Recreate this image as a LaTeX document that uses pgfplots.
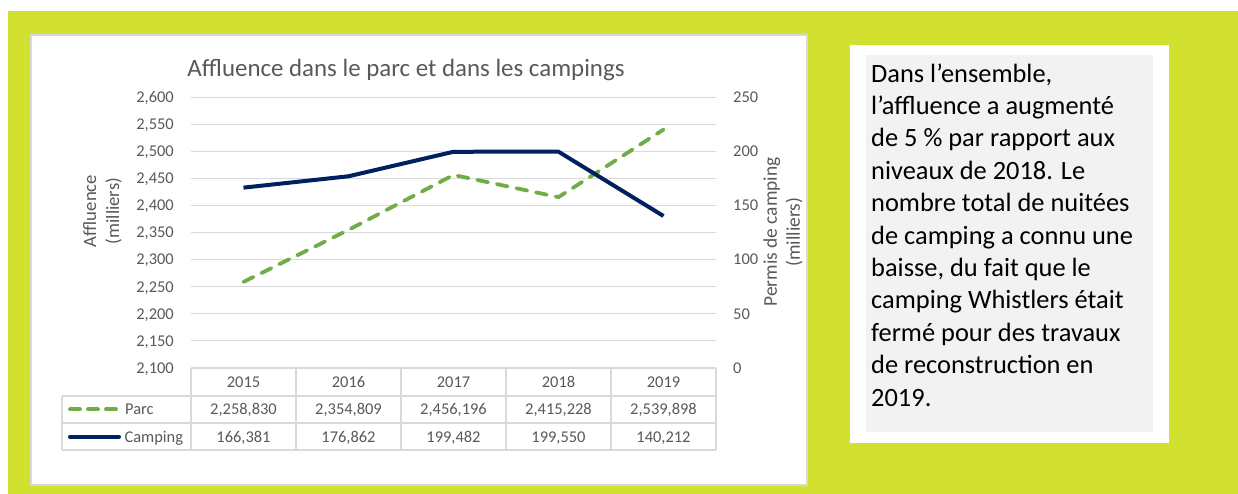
\documentclass[border=0pt]{standalone}
\usepackage{pgfplots}
\pgfplotsset{compat=1.18}
\usepackage{fontspec}
\setmainfont{Carlito}
\definecolor{lime}{RGB}{210,225,47}
\definecolor{txt}{RGB}{89,89,89}
\definecolor{gridc}{RGB}{217,217,217}
\definecolor{parc}{RGB}{112,173,71}
\definecolor{camp}{RGB}{0,32,96}
\definecolor{boxgray}{RGB}{242,242,242}
\newcommand{\tfont}{\fontsize{16.5}{19}\selectfont}
\begin{document}
\begin{tikzpicture}
\useasboundingbox (0,0) rectangle (1238bp,-494bp);
\fill[white] (0,0) rectangle (1238bp,-494bp);
\fill[lime] (8bp,-11bp) rectangle (1238bp,-494bp);
\filldraw[fill=white,draw=gridc,line width=2bp] (31bp,-35bp) rectangle (807bp,-485bp);
\fill[white] (850bp,-45bp) rectangle (1169bp,-443bp);
\fill[boxgray] (866bp,-55bp) rectangle (1153bp,-432bp);
% text box
\begin{scope}[every node/.style={anchor=base west,inner sep=0pt,font=\fontsize{26.5}{32}\selectfont,text=black}]
\node at (871bp,-82bp) {Dans l’ensemble,};
\node at (871bp,-114.4bp) {l’affluence a augmenté};
\node at (871bp,-146.8bp) {de 5 \% par rapport aux};
\node at (871bp,-179.2bp) {niveaux de 2018. Le};
\node at (871bp,-211.6bp) {nombre total de nuitées};
\node at (871bp,-244bp) {de camping a connu une};
\node at (871bp,-276.4bp) {baisse, du fait que le};
\node at (871bp,-308.8bp) {camping Whistlers était};
\node at (871bp,-341.2bp) {fermé pour des travaux};
\node at (871bp,-373.6bp) {de reconstruction en};
\node at (871bp,-406bp) {2019.};
\end{scope}
% title
\node[anchor=base,inner sep=0pt,font=\fontsize{25}{28}\selectfont,text=txt] at (406bp,-76bp) {Affluence dans le parc et dans les campings};
% axis titles
\node[rotate=90,align=center,inner sep=0pt,font=\fontsize{18.8}{23}\selectfont,text=txt] at (102.5bp,-211bp) {Affluence\\(milliers)};
\node[rotate=90,align=center,inner sep=0pt,font=\fontsize{19.5}{23}\selectfont,text=txt] at (783bp,-232bp) {Permis de camping\\(milliers)};
% left axis: Parc
\begin{axis}[at={(191bp,-368bp)}, anchor=south west, scale only axis,
  width=525bp, height=271bp, xmin=0.5, xmax=5.5, ymin=2100, ymax=2600,
  ytick={2100,2150,2200,2250,2300,2350,2400,2450,2500,2550,2600}, xtick=\empty,
  ymajorgrids, grid style={draw=gridc, line width=1bp},
  axis line style={draw=none}, major tick length=0pt,
  yticklabel style={font=\tfont, text=txt, anchor=east, text depth=0pt, inner sep=0pt, xshift=-17bp},
  /pgf/number format/1000 sep={,},
  /pgf/number format/assume math mode=true]
\addplot[parc, line width=3.8bp, line cap=round, line join=round, dash pattern=on 11bp off 9bp] coordinates {(1,2258.830) (2,2354.809) (3,2456.196) (4,2415.228) (5,2539.898)};
\end{axis}
% right axis: Camping
\begin{axis}[at={(191bp,-368bp)}, anchor=south west, scale only axis,
  width=525bp, height=271bp, xmin=0.5, xmax=5.5, ymin=0, ymax=250,
  ytick={0,50,100,150,200,250}, xtick=\empty,
  axis y line*=right, axis x line=none,
  axis line style={draw=none}, major tick length=0pt,
  yticklabel style={font=\tfont, text=txt, anchor=west, text depth=0pt, inner sep=0pt, xshift=17bp},
  /pgf/number format/assume math mode=true]
\addplot[camp, line width=4bp, line join=round] coordinates {(1,166.381) (2,176.862) (3,199.482) (4,199.550) (5,140.212)};
\end{axis}
% data table
\begin{scope}[draw=gridc, line width=1.5bp]
\draw[gridc] (62bp,-396bp) -- (716bp,-396bp);
\draw[gridc] (62bp,-423bp) -- (716bp,-423bp);
\draw[gridc] (62bp,-450bp) -- (716bp,-450bp);
\draw[gridc] (191bp,-368bp) -- (716bp,-368bp);
\draw[gridc] (62bp,-396bp) -- (62bp,-450bp);
\foreach \xx in {191,296,401,506,611,716} {\draw[gridc] (\xx bp,-368bp) -- (\xx bp,-450bp);}
\end{scope}
\draw[parc, line width=3.8bp, line cap=round, dash pattern=on 10bp off 8bp] (70bp,-409.3bp) -- (118bp,-409.3bp);
\draw[camp, line width=4bp, line cap=round] (70bp,-436.7bp) -- (119bp,-436.7bp);
\begin{scope}[every node/.style={anchor=base,inner sep=0pt,font=\tfont,text=txt}]
\node[anchor=base west] at (125bp,-414.5bp) {Parc};
\node[anchor=base west] at (124.3bp,-442bp) {Camping};
\node at (243.5bp,-387bp) {2015};
\node at (348.5bp,-387bp) {2016};
\node at (453.5bp,-387bp) {2017};
\node at (558.5bp,-387bp) {2018};
\node at (663.5bp,-387bp) {2019};
\node at (243.5bp,-414.5bp) {2,258,830};
\node at (348.5bp,-414.5bp) {2,354,809};
\node at (453.5bp,-414.5bp) {2,456,196};
\node at (558.5bp,-414.5bp) {2,415,228};
\node at (663.5bp,-414.5bp) {2,539,898};
\node at (243.5bp,-442bp) {166,381};
\node at (348.5bp,-442bp) {176,862};
\node at (453.5bp,-442bp) {199,482};
\node at (558.5bp,-442bp) {199,550};
\node at (663.5bp,-442bp) {140,212};
\end{scope}
\end{tikzpicture}
\end{document}
